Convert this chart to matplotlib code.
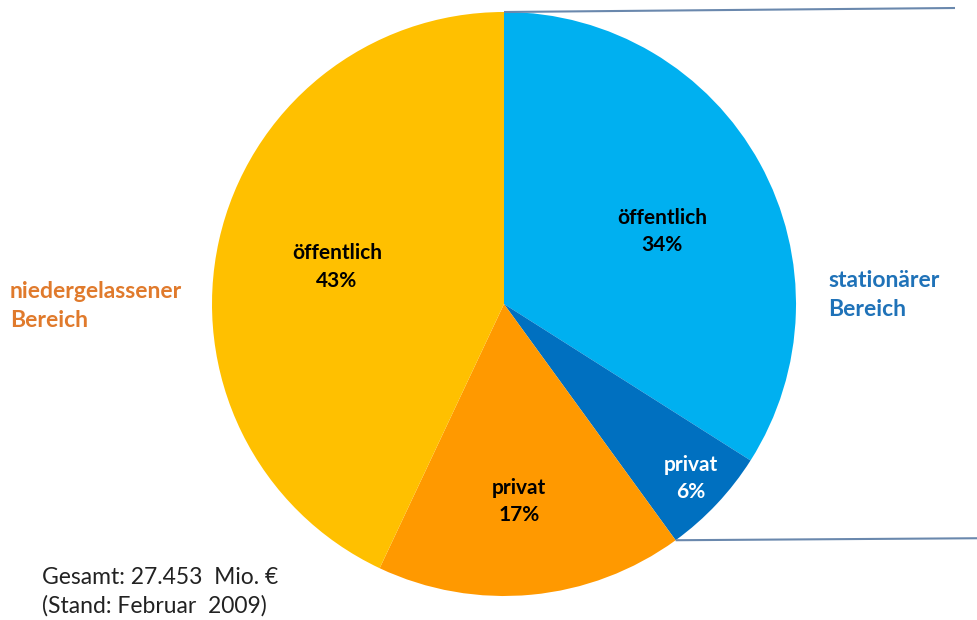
import numpy as np
import matplotlib
matplotlib.use('Agg')
import matplotlib.pyplot as plt

plt.rcParams['font.family'] = ['Lato', 'DejaVu Sans']

# Anteile (Uhrzeigersinn, ab 12 Uhr)
segmente = ['öffentlich', 'privat', 'privat', 'öffentlich']
anteile = [34, 6, 17, 43]
farben = ['#00B0F0', '#0070C0', '#FF9900', '#FFC000']
textfarben = ['black', 'white', 'black', 'black']
# Lage der Beschriftung: (Abstand vom Mittelpunkt in px, Winkel in Grad)
label_pos = [(174, 24.5), (256, -43.0), (198, -85.6), (171, 167.5)]

bereiche = ['stationärer\nBereich', 'niedergelassener\nBereich']
gesamt_text = 'Gesamt: 27.453  Mio. €\n(Stand: Februar  2009)'

W, H = 978, 620
fig = plt.figure(figsize=(W / 100, H / 100), dpi=100)
ax = fig.add_axes([0, 0, 1, 1])

cx, cy, r = 504, H - 304, 292
wedges, _ = ax.pie(anteile, colors=farben, startangle=90, counterclock=False,
                   radius=r, center=(cx, cy), frame=True,
                   wedgeprops=dict(linewidth=0))
ax.set_xlim(0, W)
ax.set_ylim(0, H)
ax.axis('off')

# Beschriftungen in den Segmenten
for name, wert, tc, (d, wnk) in zip(segmente, anteile, textfarben, label_pos):
    x = cx + d * np.cos(np.deg2rad(wnk))
    y = cy + d * np.sin(np.deg2rad(wnk))
    ax.text(x, y, f'{name}\n{wert}%', ha='center', va='center', color=tc,
            fontsize=15, fontweight='bold', linespacing=1.45)

# Klammerlinien für den stationären Bereich
top_x, top_y = cx, cy + r
ende = np.deg2rad(wedges[1].theta1)
bot_x, bot_y = cx + r * np.cos(ende), cy + r * np.sin(ende)
linie = dict(color='#6A88AD', lw=1.5, solid_capstyle='butt')
ax.plot([top_x, 955], [top_y, top_y + 4], **linie)
ax.plot([bot_x, W], [bot_y, bot_y + 2], **linie)

ax.text(828, H - 295, bereiche[0], ha='left', va='center', color='#1F72B8',
        fontsize=16.5, fontweight='bold', linespacing=1.5)
ax.text(10, H - 306, bereiche[1], ha='left', va='center', color='#E07A2C',
        fontsize=16.5, fontweight='bold', linespacing=1.5)

ax.text(42, H - 592, gesamt_text, ha='left', va='center', color='#222222',
        fontsize=16.5, linespacing=1.4)

fig.savefig('out.png', dpi=100)
